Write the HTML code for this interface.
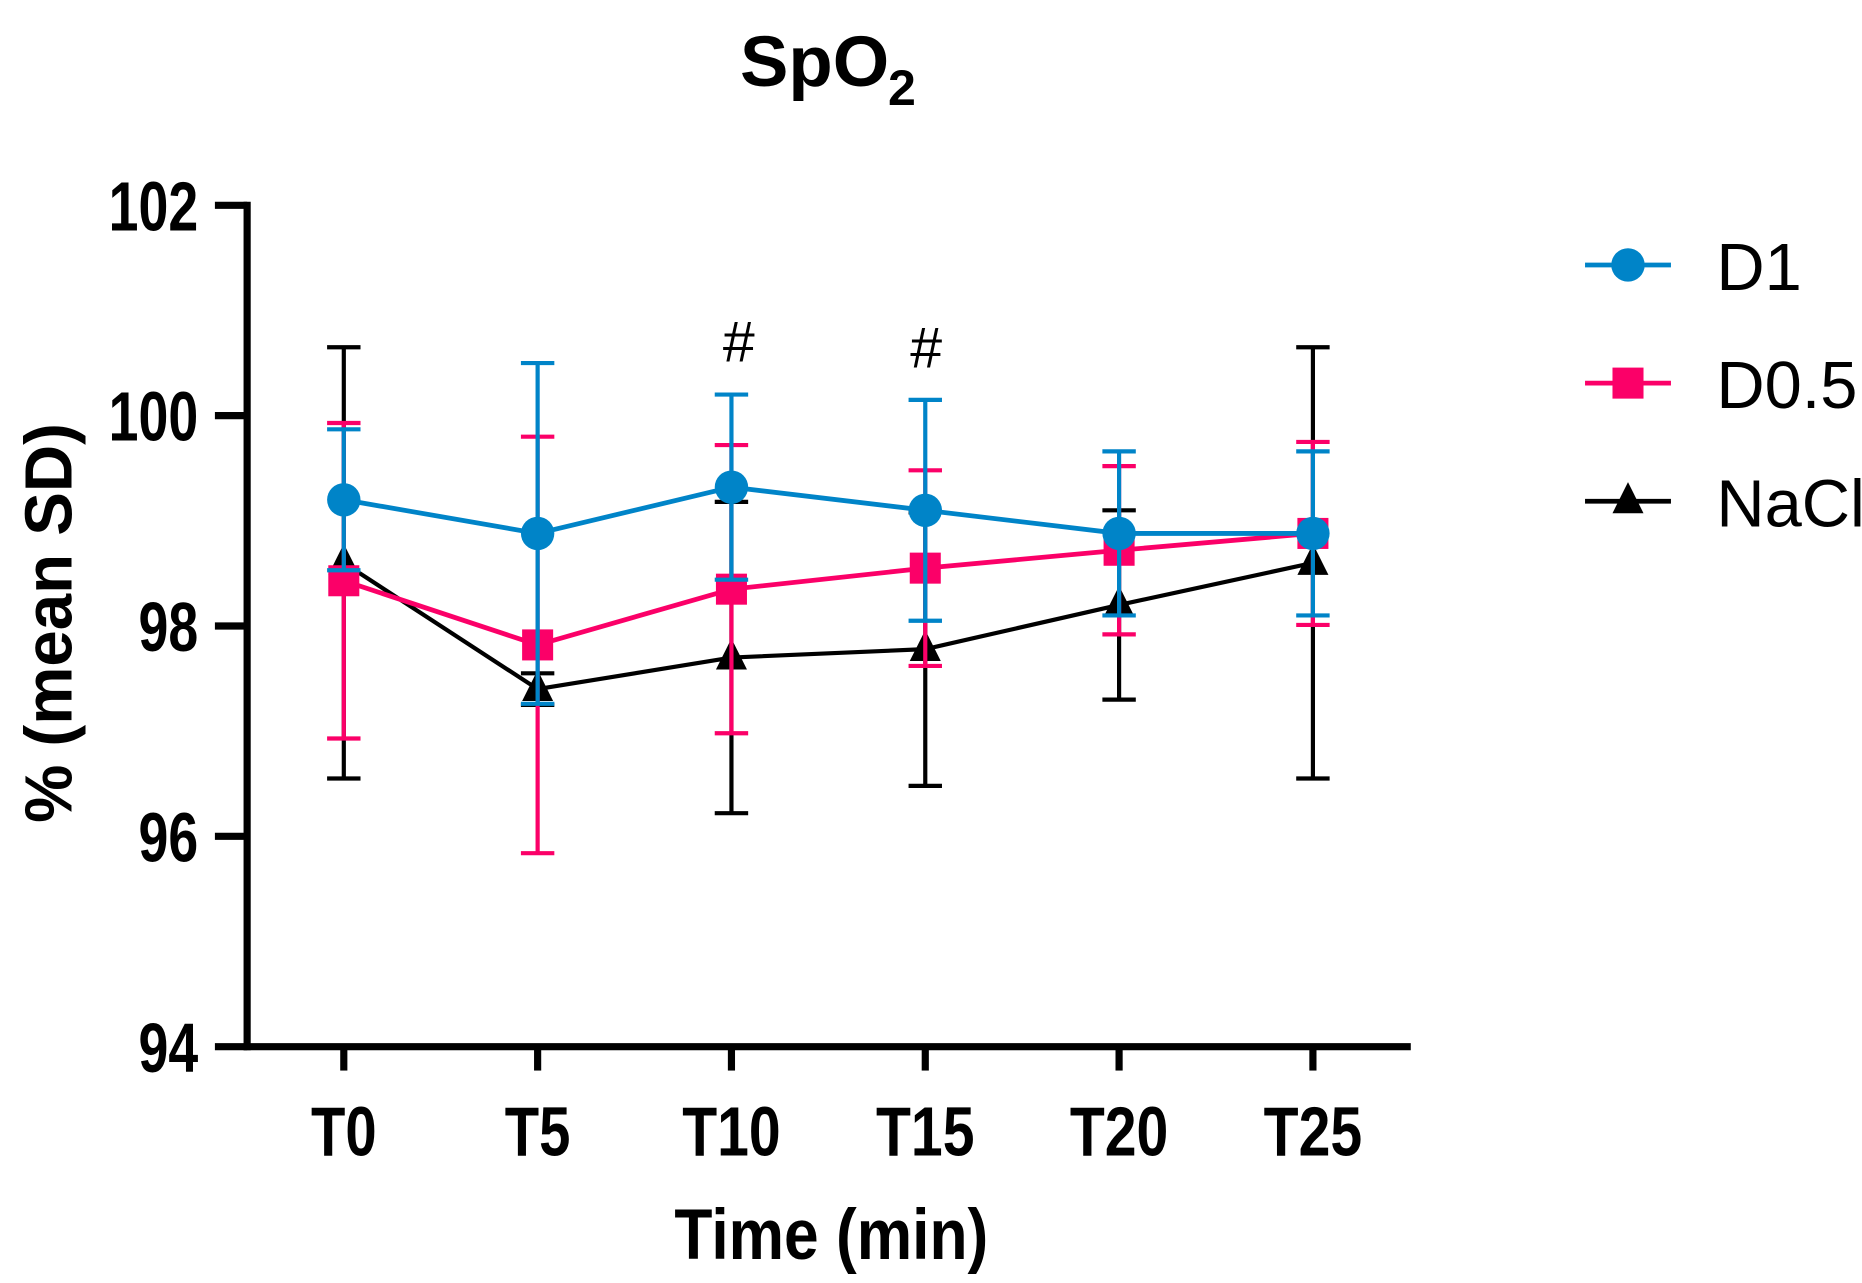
<!DOCTYPE html>
<html><head><meta charset="utf-8"><style>
html,body{margin:0;padding:0;background:#fff;}
svg{display:block;}
text{font-family:"Liberation Sans",sans-serif;}
</style></head><body>
<svg id="chart" width="1862" height="1283" viewBox="0 0 1560 1075">
<text x="620" y="72" font-size="60" font-weight="bold" textLength="125" lengthAdjust="spacingAndGlyphs">SpO</text>
<text x="744" y="88" font-size="42" font-weight="bold">2</text>
<g id="axes"></g>
<g id="series"></g>
<text transform="translate(60,522) rotate(-90)" text-anchor="middle" font-size="56" font-weight="bold" textLength="335" lengthAdjust="spacingAndGlyphs">% (mean SD)</text>
<text x="565" y="1055" font-size="60" font-weight="bold" textLength="263" lengthAdjust="spacingAndGlyphs">Time (min)</text>
<text x="619" y="303" text-anchor="middle" font-size="48">#</text>
<text x="776" y="308" text-anchor="middle" font-size="48">#</text>
<g id="legend"></g>
</svg>
<script>
const categories = ["T0","T5","T10","T15","T20","T25"];
const yTicks = [94,96,98,100,102];
const d1Mean = [99.2,98.88,99.32,99.1,98.88,98.88];
const d1Sd = [0.67,1.62,0.88,1.05,0.78,0.78];
const d05Mean = [98.43,97.82,98.35,98.55,98.72,98.88];
const d05Sd = [1.5,1.98,1.37,0.93,0.8,0.87];
const naclMean = [98.6,97.4,97.7,97.78,98.2,98.6];
const naclSd = [2.05,0.15,1.48,1.3,0.9,2.05];
const seriesNames = ["D1","D0.5","NaCl"];

const NS="http://www.w3.org/2000/svg";
const x0=288, dx=162.4, yTop=172, yBot=877, yMin=94, yMax=102;
const xs=i=>x0+i*dx;
const ys=v=>yBot-(v-yMin)/(yMax-yMin)*(yBot-yTop);
function mk(tag,attrs,parent){const e=document.createElementNS(NS,tag);for(const k in attrs)e.setAttribute(k,attrs[k]);parent.appendChild(e);return e;}
const axes=document.getElementById('axes');
let e;
e=mk('line',{x1:207,y1:yTop-3,x2:207,y2:yBot+3,stroke:'#000','stroke-width':6},axes);


e=mk('line',{x1:204,y1:yBot,x2:1182,y2:yBot,stroke:'#000','stroke-width':6},axes);


yTicks.forEach(t=>{
  mk('line',{x1:180,y1:ys(t),x2:207,y2:ys(t),stroke:'#000','stroke-width':6},axes);
  const s=String(t);
  e=mk('text',{x:166,y:ys(t)+21,'text-anchor':'end','font-size':58,'font-weight':'bold',textLength:s.length*25,lengthAdjust:'spacingAndGlyphs'},axes);
  e.textContent=s;
  
  
});
categories.forEach((c,i)=>{
  mk('line',{x1:xs(i),y1:yBot,x2:xs(i),y2:yBot+20,stroke:'#000','stroke-width':6},axes);
  e=mk('text',{x:xs(i),y:968,'text-anchor':'middle','font-size':58,'font-weight':'bold',textLength:c.length*27.5,lengthAdjust:'spacingAndGlyphs'},axes);
  e.textContent=c;
  
  
});
const sg=document.getElementById('series');
function marker(kind,cx,cy,color,parent){
  if(kind==='circle') return mk('circle',{cx:cx,cy:cy,r:14,fill:color},parent);
  if(kind==='square') return mk('rect',{x:cx-13,y:cy-13,width:26,height:26,fill:color},parent);
  return mk('polygon',{points:`${cx},${cy-16} ${cx-13},${cy+10} ${cx+13},${cy+10}`,fill:color},parent);
}
function drawSeries(name,means,sds,color,kind,w){
  const g=mk('g',{},sg);
  
  
  means.forEach((m,i)=>{
    const hi=ys(m+sds[i]),lo=ys(m-sds[i]),x=xs(i);
    const eb=mk('path',{d:`M${x},${hi}V${lo}M${x-14},${hi}H${x+14}M${x-14},${lo}H${x+14}`,stroke:color,'stroke-width':3.5,fill:'none'},g);
    
    
  });
  const l=mk('polyline',{points:means.map((m,i)=>xs(i)+','+ys(m)).join(' '),stroke:color,'stroke-width':w,fill:'none'},g);
  
  
  means.forEach((m,i)=>{
    const p=marker(kind,xs(i),ys(m),color,g);
    
    
  });
}
drawSeries("NaCl",naclMean,naclSd,'#000','triangle',3.5);
drawSeries("D0.5",d05Mean,d05Sd,'#fb0068','square',4);
drawSeries("D1",d1Mean,d1Sd,'#0084c8','circle',4);
const lg=document.getElementById('legend');
const lcol=['#0084c8','#fb0068','#000'], lkind=['circle','square','triangle'];
seriesNames.forEach((n,i)=>{
  const y=222+i*99;
  const g=mk('g',{},lg);
  
  
  mk('line',{x1:1328,y1:y,x2:1400,y2:y,stroke:lcol[i],'stroke-width':4},g);
  marker(lkind[i],1364,y,lcol[i],g);
  const t=mk('text',{x:1438,y:y+21,'font-size':56},g);
  t.textContent=n;
});
</script>
</body></html>
